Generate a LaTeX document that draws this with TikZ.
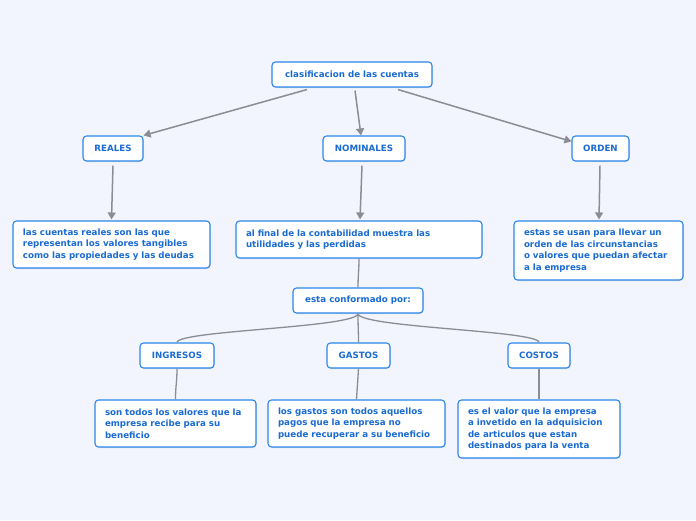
\documentclass[tikz,border=0pt]{standalone}
\usepackage{fontspec}
\setmainfont{DejaVu Sans}
\usepackage{xcolor}
\usetikzlibrary{arrows.meta,calc,positioning,shadows}
\definecolor{bgpale}{HTML}{F3F5FE}
\definecolor{boxblue}{HTML}{2A86EA}
\definecolor{txtblue}{HTML}{1A6BD2}
\definecolor{linkgray}{HTML}{8A8D93}
\tikzset{
  topic/.style={draw=boxblue,line width=1.1pt,fill=white,rounded corners=3.5pt,
    text=txtblue,font=\fontsize{8.7}{11.5}\selectfont\bfseries,inner sep=0pt,
    minimum height=25pt,drop shadow={opacity=0.25,shadow xshift=0.6pt,shadow yshift=-1pt}},
  card/.style={topic,align=left,inner xsep=10pt,
    execute at begin node={\hyphenpenalty=10000}},
  link/.style={-{Triangle[length=7pt,width=8pt]},line width=1.5pt,draw=linkgray},
  plainlink/.style={line width=1.3pt,draw=linkgray}
}
\begin{document}
\begin{tikzpicture}[x=1pt,y=-1pt]
  \fill[bgpale] (0,0) rectangle (696,520);
  \useasboundingbox (0,0) rectangle (696,520);
  % top level
  \node[topic,minimum width=160pt] (root) at (352,74.5) {clasificacion de las cuentas};
  \node[topic,minimum width=60pt] (reales) at (113,148.5) {REALES};
  \node[topic,minimum width=82pt] (nominales) at (364,148.5) {NOMINALES};
  \node[topic,minimum width=57pt] (orden) at (600.5,148.5) {ORDEN};
  % descriptions
  \node[card,text width=177pt,minimum height=47pt] (realesdesc) at (111.5,244.5)
    {las cuentas reales son las que\\representan los valores tangibles\\como las propiedades y las deudas};
  \node[card,text width=226pt,minimum height=37pt] (nomdesc) at (359,239.5)
    {al final de la contabilidad muestra las\\utilidades y las perdidas};
  \node[card,text width=149pt,minimum height=59pt] (ordendesc) at (598.5,250.5)
    {estas se usan para llevar un\\orden de las circunstancias\\o valores que puedan afectar\\a la empresa};
  \node[topic,minimum width=130pt] (conf) at (358,300.5) {esta conformado por:};
  % second level
  \node[topic,minimum width=74pt] (ingresos) at (177,355.5) {INGRESOS};
  \node[topic,minimum width=63pt] (gastos) at (358.5,355.5) {GASTOS};
  \node[topic,minimum width=62pt] (costos) at (539,355.5) {COSTOS};
  \node[card,text width=141pt,minimum height=47pt] (ingdesc) at (175.5,423.5)
    {son todos los valores que la\\empresa recibe para su\\beneficio};
  \node[card,text width=157pt,minimum height=47pt] (gasdesc) at (356.5,423.5)
    {los gastos son todos aquellos\\pagos que la empresa no\\puede recuperar a su beneficio};
  \node[card,text width=142pt,minimum height=58pt] (cosdesc) at (539,429)
    {es el valor que la empresa\\a invetido en la adquisicion\\de articulos que estan\\destinados para la venta};
  % arrows
  \draw[link] ($(root.south)+(-45,2)$) -- (reales.north east);
  \draw[link] ($(root.south)+(3,3)$) -- (nominales.north -| 361,0);
  \draw[link] ($(root.south)+(46,2)$) -- ($(orden.north west)+(0,6)$);
  \draw[link] ($(reales.south)+(0,4)$) -- ($(realesdesc.north)+(0,-1)$);
  \draw[link] ($(nominales.south)+(-2,4)$) -- ($(nomdesc.north)+(1,-1)$);
  \draw[link] ($(orden.south)+(-0.5,4)$) -- ($(ordendesc.north)+(0.5,-1)$);
  % plain links
  \draw[plainlink] (nomdesc.south) .. controls +(0,12) and +(0,-12) .. (conf.north);
  \foreach \kid in {ingresos,gastos,costos}{
    \draw[plainlink] (conf.south) .. controls +(0,14) and +(0,-12) .. (\kid.north);
  }
  \draw[plainlink] (ingresos.south) .. controls +(0,14) and +(0,-14) .. (ingdesc.north);
  \draw[plainlink] (gastos.south) -- (gasdesc.north);
  \draw[plainlink] (costos.south) -- (cosdesc.north);
\end{tikzpicture}
\end{document}
